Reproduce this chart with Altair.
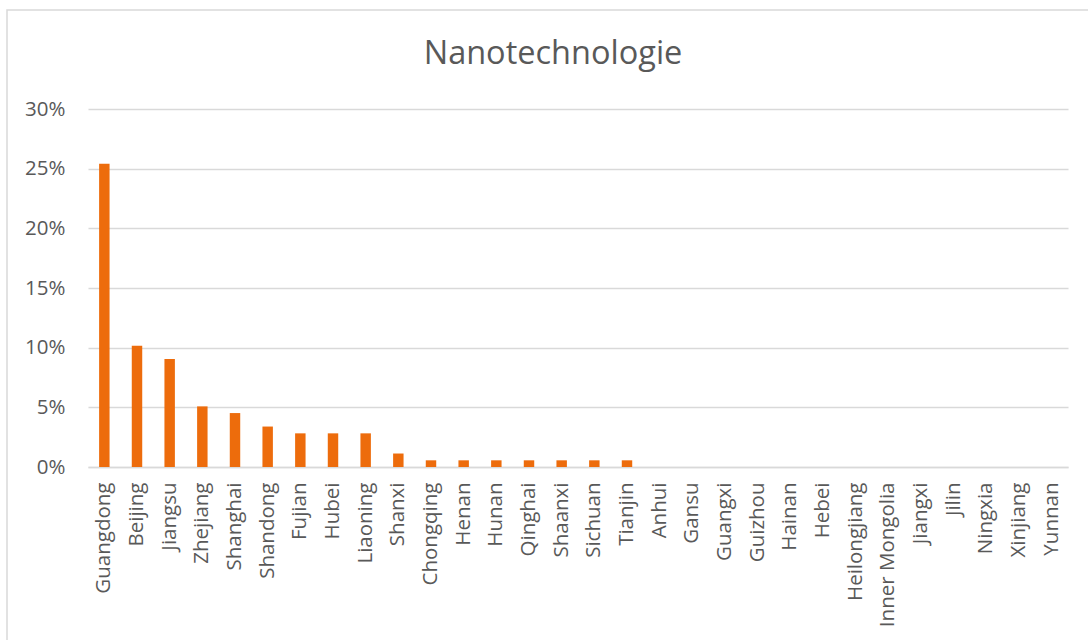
import altair as alt
import pandas as pd

# Share of nanotechnology activity by province
provinces = [
    "Guangdong", "Beijing", "Jiangsu", "Zhejiang", "Shanghai", "Shandong",
    "Fujian", "Hubei", "Liaoning", "Shanxi", "Chongqing", "Henan", "Hunan",
    "Qinghai", "Shaanxi", "Sichuan", "Tianjin", "Anhui", "Gansu", "Guangxi",
    "Guizhou", "Hainan", "Hebei", "Heilongjiang", "Inner Mongolia", "Jiangxi",
    "Jilin", "Ningxia", "Xinjiang", "Yunnan",
]
shares = [
    0.2542, 0.1017, 0.0904, 0.0508, 0.0452, 0.0339,
    0.0282, 0.0282, 0.0282, 0.0113, 0.0056, 0.0056, 0.0056,
    0.0056, 0.0056, 0.0056, 0.0056, 0.0, 0.0, 0.0,
    0.0, 0.0, 0.0, 0.0, 0.0, 0.0,
    0.0, 0.0, 0.0, 0.0,
]
y_ticks = [0, 0.05, 0.10, 0.15, 0.20, 0.25, 0.30]
title_text = ["Nanotechnologie"]

df = pd.DataFrame({"province": provinces, "share": shares})

FONT = "Open Sans"
TEXT = "#595959"
GRID = "#D9D9D9"
W, H = 980, 358
PAD_L, PAD_T = 88, 109

# Outer chart frame (decorative outline only)
frame = alt.Chart(pd.DataFrame({"k": [0]})).mark_rect(
    filled=False, stroke=GRID, strokeWidth=1.5
).encode(
    x=alt.value(7 - PAD_L), x2=alt.value(1100 - PAD_L),
    y=alt.value(10 - PAD_T), y2=alt.value(660 - PAD_T),
)

# Chart heading
heading = alt.Chart(pd.DataFrame({"t": title_text})).mark_text(
    font=FONT, fontSize=32.5, color=TEXT, align="center", baseline="middle"
).encode(
    text="t:N",
    x=alt.value(553 - PAD_L), y=alt.value(54 - PAD_T),
)

bars = alt.Chart(df).mark_bar(color="#ED6C0C").encode(
    x=alt.X(
        "province:N", sort=provinces, title=None,
        scale=alt.Scale(paddingInner=0.68, paddingOuter=0.34),
        axis=alt.Axis(
            labelAngle=-90, labelFont=FONT, labelFontSize=20.5, labelColor=TEXT,
            labelPadding=15, ticks=False, domainColor=GRID, domainWidth=1.5,
            labelAlign="right", labelBaseline="middle", labelLimit=200,
        ),
    ),
    y=alt.Y(
        "share:Q", title=None,
        scale=alt.Scale(domain=[0, 0.30], nice=False),
        axis=alt.Axis(
            values=y_ticks, format=".0%", labelFont=FONT, labelFontSize=20.5,
            labelColor=TEXT, labelPadding=23, ticks=False, domain=False,
            gridColor=GRID, gridWidth=1.3,
        ),
    ),
)

chart = alt.layer(frame, bars, heading).properties(
    width=W, height=H,
    autosize=alt.AutoSizeParams(type="none"),
    padding={"left": PAD_L, "top": PAD_T, "right": 20, "bottom": 173},
).configure_view(stroke=None)

chart.save("out.html", embed_options={"renderer": "svg", "actions": False})
